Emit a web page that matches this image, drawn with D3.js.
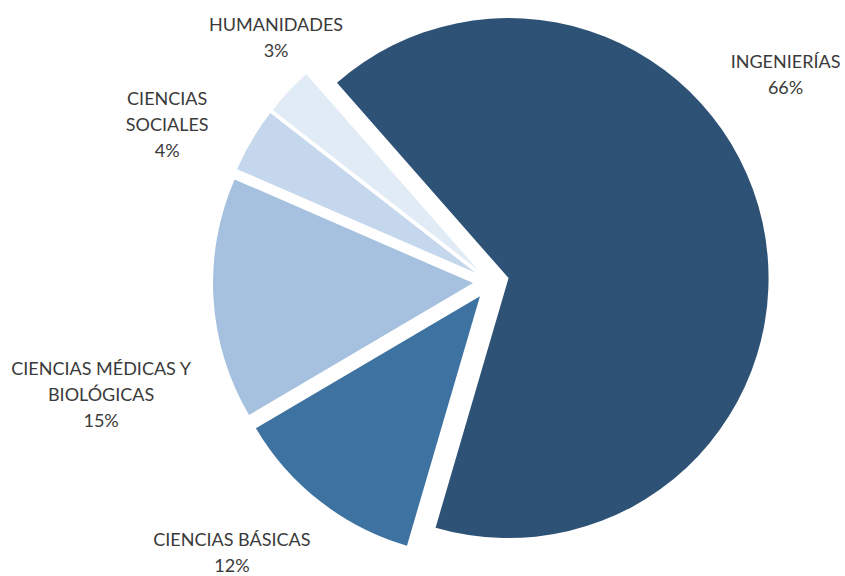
<!DOCTYPE html>
<html>
<head>
<meta charset="utf-8">
<script src="https://cdn.jsdelivr.net/npm/d3@7/dist/d3.min.js"></script>
<style>
  html, body { margin: 0; padding: 0; background: #ffffff; }
  svg { display: block; }
</style>
</head>
<body>
<svg id="chart" width="845" height="576"></svg>
<script>
// ---- data ----
const categories = ["INGENIERÍAS", "CIENCIAS BÁSICAS", "CIENCIAS MÉDICAS Y BIOLÓGICAS", "CIENCIAS SOCIALES", "HUMANIDADES"];
const values = [66, 12, 15, 4, 3];
const labelLines = [
  ["INGENIERÍAS"],
  ["CIENCIAS BÁSICAS"],
  ["CIENCIAS MÉDICAS Y", "BIOLÓGICAS"],
  ["CIENCIAS", "SOCIALES"],
  ["HUMANIDADES"]
];
const colors = ["#2E5276", "#3E72A1", "#A6C1DF", "#C5D7EC", "#E1EBF6"];

// ---- layout ----
const W = 845, H = 576;
const cx = 491, cy = 282;
const radius = 260;
const explode = 18;
const startDeg = -41.3;
// label placement (polar, relative to pie center): angle in degrees, distance in px
const labelAngle = [54.9, 223.7, 253.8, 295.9, 318.6];
const labelDist = [360, 375, 406, 360, 325];
const lineH = 26;

const svg = d3.select("#chart");
const g = svg.append("g").attr("transform", `translate(${cx},${cy})`);

const pie = d3.pie().sort(null).value(d => d)
  .startAngle(startDeg * Math.PI / 180)
  .endAngle(startDeg * Math.PI / 180 + 2 * Math.PI);
const arcs = pie(values);
const arc = d3.arc().innerRadius(0).outerRadius(radius);

g.selectAll("path.slice")
  .data(arcs)
  .join("path")
  .attr("class", "slice")
  .attr("fill", (d, i) => colors[i])
  .attr("transform", d => {
    const a = (d.startAngle + d.endAngle) / 2;
    return `translate(${explode * Math.sin(a)},${-explode * Math.cos(a)})`;
  })
  .attr("d", arc);

const labels = g.selectAll("text.lbl")
  .data(arcs)
  .join("text")
  .attr("class", "lbl")
  .attr("text-anchor", "middle")
  .attr("fill", "#3a3a3a")
  .style("font-family", "Lato, 'Open Sans', sans-serif")
  .style("font-size", "18px")
  .each(function(d, i) {
    const a = labelAngle[i] * Math.PI / 180;
    const x = labelDist[i] * Math.sin(a);
    const y = -labelDist[i] * Math.cos(a);
    const lines = labelLines[i].concat([values[i] + "%"]);
    const n = lines.length;
    const t = d3.select(this);
    lines.forEach((ln, k) => {
      t.append("tspan")
        .attr("x", x)
        .attr("y", y + (k - (n - 1) / 2) * lineH + 6)
        .text(ln);
    });
  });
</script>
</body>
</html>
